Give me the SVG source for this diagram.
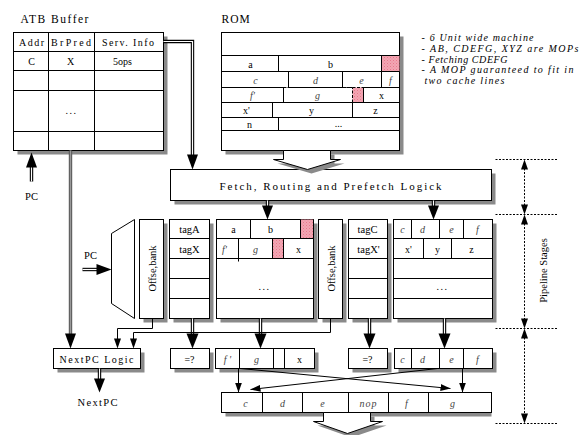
<svg xmlns="http://www.w3.org/2000/svg" width="581" height="435" viewBox="0 0 581 435">
<defs>
<style>
.b{fill:#fff;stroke:#000;stroke-width:1}
.s{fill:#8a8a8a}
.l{stroke:#000;stroke-width:1;fill:none}
.d{stroke:#000;stroke-width:1;fill:none;stroke-dasharray:3,1.5}
text{font-family:'Liberation Serif','DejaVu Serif','Times New Roman',serif}
.t{font-size:10px;fill:#000;text-anchor:middle}
.i{font-style:italic;fill:#444}
.n{font-size:10px;font-style:italic;fill:#000}
.dbo{stroke:#000;stroke-width:3.4;fill:none}
.dbi{stroke:#fff;stroke-width:1.2;fill:none}
.dot{stroke:#000;stroke-width:1;fill:none;stroke-dasharray:2,1.5}
.ah{fill:#000}
</style>
<pattern id="hat" width="3" height="3" patternUnits="userSpaceOnUse">
<rect width="3" height="3" fill="#fbd3da"/>
<path d="M0,0 L3,3 M3,0 L0,3" stroke="#e0506a" stroke-width="0.7"/>
</pattern>
<marker id="sm" markerWidth="10" markerHeight="7" refX="10" refY="3.5" orient="auto" markerUnits="userSpaceOnUse">
<path d="M0,0 L10,3.5 L0,7 Z" fill="#000"/>
</marker>
</defs>
<g transform="translate(0.5,0.5)" font-family="Liberation Serif, serif">
<g id="atb">
<text x="20" y="22" class="t" style="text-anchor:start;font-size:11.5px;letter-spacing:1.5px">ATB Buffer</text>
<rect x="17" y="36" width="150" height="118" class="s"/>
<rect x="13" y="32" width="150" height="118" class="b"/>
<path d="M13,51H163M13,70H163M13,90H163M13,131H163M48,32V150M94,32V150" class="l"/>
<text x="31" y="45" class="t" textLength="25" lengthAdjust="spacing">Addr</text>
<text x="70.5" y="45" class="t" textLength="40" lengthAdjust="spacing">BrPred</text>
<text x="127.5" y="45" class="t" textLength="52" lengthAdjust="spacing">Serv. Info</text>
<text x="31" y="64" class="t">C</text>
<text x="70" y="64" class="t">X</text>
<text x="122" y="64" class="t">5ops</text>
<text x="71" y="113" class="t" style="letter-spacing:1.5px">...</text>
</g>

<g id="rom">
<text x="221" y="22" class="t" style="text-anchor:start;font-size:11.5px;letter-spacing:1px">ROM</text>
<rect x="225" y="36" width="178" height="118" class="s"/>
<rect x="221" y="32" width="178" height="118" class="b"/>
<rect x="381" y="55" width="18" height="16" fill="url(#hat)"/>
<rect x="352" y="87" width="11" height="15" fill="url(#hat)"/>
<path d="M221,55H399M221,71H399M278,55V71M381,55V71" class="l"/>
<rect x="221" y="71" width="67" height="16" class="d"/>
<rect x="342" y="71" width="39" height="16" class="d"/>
<rect x="288" y="71" width="54" height="16" class="l"/>
<path d="M381,71V87" class="l"/>
<path d="M221,87H283M221,102H399M283,87V102M363,87V102M363,87H399" class="l"/>
<rect x="283" y="87" width="69" height="15" class="d"/>
<path d="M221,117H399M221,130H399M272,102V117M352,102V117M278,117V130" class="l"/>
<text x="250" y="67" class="t">a</text>
<text x="330" y="67" class="t">b</text>
<text x="255" y="83" class="t i">c</text>
<text x="315" y="83" class="t i">d</text>
<text x="361" y="83" class="t i">e</text>
<text x="390" y="83" class="t i">f</text>
<text x="252" y="98" class="t i">f'</text>
<text x="317" y="98" class="t i">g</text>
<text x="381" y="98" class="t">x</text>
<text x="246" y="113" class="t">x'</text>
<text x="311" y="113" class="t">y</text>
<text x="375" y="113" class="t">z</text>
<text x="249" y="127" class="t">n</text>
<text x="338" y="126" class="t">...</text>
</g>

<g id="notes">
<text x="421" y="40" class="n" textLength="112" lengthAdjust="spacing">- 6 Unit wide machine</text>
<text x="421" y="51" class="n" textLength="157" lengthAdjust="spacing">- AB, CDEFG, XYZ are MOPs</text>
<text x="421" y="62" class="n" textLength="86" lengthAdjust="spacing">- Fetching CDEFG</text>
<text x="421" y="72.5" class="n" textLength="152" lengthAdjust="spacing">- A MOP guaranteed to fit in</text>
<text x="424" y="83" class="n" textLength="80" lengthAdjust="spacing">two cache lines</text>
</g>

<g id="fetch">
<rect x="174" y="173" width="321" height="31" class="s"/>
<rect x="170" y="169" width="321" height="31" class="b"/>
<text x="330" y="189" class="t" style="font-size:11px" textLength="222" lengthAdjust="spacing">Fetch, Routing  and Prefetch Logick</text>
</g>

<g id="mux">
<polygon points="111,233 134,219 134,318 111,303" class="b"/>
</g>

<g id="offse1">
<rect x="143" y="223" width="24" height="99" class="s"/>
<rect x="139" y="219" width="24" height="99" class="b"/>
<text transform="translate(155,268) rotate(-90)" class="t" style="font-size:10.5px">Offse,bank</text>
</g>

<g id="tag1">
<rect x="173" y="223" width="40" height="99" class="s"/>
<rect x="169" y="219" width="40" height="99" class="b"/>
<path d="M169,238H209M169,258H209M169,278H209M169,298H209" class="l"/>
<text x="189" y="232" class="t" style="font-size:10.5px">tagA</text>
<text x="189" y="252" class="t" style="font-size:10.5px">tagX</text>
</g>

<g id="cache1">
<rect x="220" y="223" width="97" height="99" class="s"/>
<rect x="216" y="219" width="97" height="99" class="b"/>
<rect x="300" y="219" width="13" height="19" fill="url(#hat)"/>
<rect x="272" y="238" width="11" height="20" fill="url(#hat)"/>
<path d="M216,238H313M216,258H313M216,298H313M250,219V238M300,219V238M238,238V261M272,238V258M283,238V258M313,219V238" class="l"/>
<text x="233" y="232" class="t">a</text>
<text x="270" y="232" class="t">b</text>
<text x="224" y="252" class="t i">f'</text>
<text x="255" y="252" class="t i">g</text>
<text x="298" y="252" class="t">x</text>
<text x="264" y="289" class="t" style="letter-spacing:1.5px">...</text>
</g>

<g id="offse2">
<rect x="322" y="223" width="24" height="99" class="s"/>
<rect x="318" y="219" width="24" height="99" class="b"/>
<text transform="translate(334,268) rotate(-90)" class="t" style="font-size:10.5px">Offse,bank</text>
</g>

<g id="tag2">
<rect x="352" y="223" width="39" height="99" class="s"/>
<rect x="348" y="219" width="39" height="99" class="b"/>
<path d="M348,238H387M348,258H387M348,278H387M348,298H387" class="l"/>
<text x="367" y="232" class="t" style="font-size:10.5px">tagC</text>
<text x="368" y="252" class="t" style="font-size:10.5px">tagX'</text>
</g>

<g id="cache2">
<rect x="397" y="223" width="99" height="99" class="s"/>
<rect x="393" y="219" width="99" height="99" class="b"/>
<path d="M393,238H492M393,258H492M393,278H492M393,298H492M411,219V238M439,219V238M463,219V238M423,238V258M451,238V258" class="l"/>
<text x="402" y="232" class="t i">c</text>
<text x="422" y="232" class="t i">d</text>
<text x="451" y="232" class="t i">e</text>
<text x="477" y="232" class="t i">f</text>
<text x="408" y="252" class="t">x'</text>
<text x="437" y="252" class="t">y</text>
<text x="471" y="252" class="t">z</text>
<text x="442" y="289" class="t" style="letter-spacing:1.5px">...</text>
</g>

<g id="cmp1">
<rect x="174" y="352" width="39" height="20" class="s"/>
<rect x="170" y="348" width="39" height="20" class="b"/>
<text x="189" y="362" class="t">=?</text>
</g>

<g id="sel1">
<rect x="219" y="352" width="99" height="20" class="s"/>
<rect x="215" y="348" width="99" height="20" class="b"/>
<path d="M239,348V368M273,348V368M284,348V368" class="l"/>
<text x="227" y="362" class="t i">f '</text>
<text x="256" y="362" class="t i">g</text>
<text x="299" y="362" class="t">x</text>
</g>

<g id="cmp2">
<rect x="352" y="352" width="39" height="20" class="s"/>
<rect x="348" y="348" width="39" height="20" class="b"/>
<text x="367" y="362" class="t">=?</text>
</g>

<g id="sel2">
<rect x="398" y="352" width="98" height="20" class="s"/>
<rect x="394" y="348" width="98" height="20" class="b"/>
<path d="M411,348V368M439,348V368M463,348V368" class="l"/>
<text x="402" y="362" class="t i">c</text>
<text x="422" y="362" class="t i">d</text>
<text x="451" y="362" class="t i">e</text>
<text x="477" y="362" class="t i">f</text>
</g>

<g id="out">
<rect x="225" y="396" width="266" height="20" class="s"/>
<rect x="221" y="392" width="270" height="20" class="b"/>
<path d="M262,392V412M302,392V412M348,392V412M388,392V412M428,392V412" class="l"/>
<text x="245" y="406" class="t i">c</text>
<text x="282" y="406" class="t i">d</text>
<text x="322" y="406" class="t i">e</text>
<text x="368" y="406" class="t i" style="letter-spacing:1px">nop</text>
<text x="406" y="406" class="t i">f</text>
<text x="452" y="406" class="t i">g</text>
</g>

<g id="nextpc">
<rect x="57" y="352" width="87" height="20" class="s"/>
<rect x="53" y="348" width="87" height="20" class="b"/>
<text x="96" y="362" class="t" textLength="74" lengthAdjust="spacing">NextPC Logic</text>
</g>

<g id="labels">
<text x="31" y="199" class="t" style="font-size:10.5px">PC</text>
<text x="90" y="258" class="t" style="font-size:10.5px">PC</text>
<text x="97" y="405" class="t" style="font-size:10.5px" textLength="40" lengthAdjust="spacing">NextPC</text>
<text transform="translate(546,270) rotate(-90)" class="t" style="font-size:10.5px">Pipeline Stages</text>
</g>

<g id="connectors">
<polygon points="287,154 334,154 334,163 344,163 311,173 277,163 287,163" class="s"/>
<polygon points="283,150 330,150 330,159 340,159 307,169 273,159 283,159" class="b"/>
<path d="M163,41H192V155" class="dbo"/>
<path d="M163,41H192V155" class="dbi"/>
<polygon points="186.5,154 197.5,154 192,169" class="ah"/>
<path d="M31,181V166" class="dbo"/>
<path d="M31,181V166" class="dbi"/>
<polygon points="25.5,167 36.5,167 31,152" class="ah"/>
<path d="M70,150V334" stroke="#555" stroke-width="3.4" fill="none"/>
<path d="M70,150V334" stroke="#999" stroke-width="1.4" fill="none"/>
<polygon points="64.5,333 75.5,333 70,348" class="ah"/>
<path d="M82,269H97" class="dbo"/>
<path d="M82,269H97" class="dbi"/>
<polygon points="96,263.5 96,274.5 111,269" class="ah"/>
<path d="M267,200V206" class="dbo"/><path d="M267,200V206" class="dbi"/>
<polygon points="261.5,205 272.5,205 267,219" class="ah"/>
<path d="M433,200V206" class="dbo"/><path d="M433,200V206" class="dbi"/>
<polygon points="427.5,205 438.5,205 433,219" class="ah"/>
<path d="M192,318V334" class="dbo"/><path d="M192,318V334" class="dbi"/>
<polygon points="186,333 198,333 192,348" class="ah"/>
<path d="M260,318V334" class="dbo"/><path d="M260,318V334" class="dbi"/>
<polygon points="254,333 266,333 260,348" class="ah"/>
<path d="M369,318V334" class="dbo"/><path d="M369,318V334" class="dbi"/>
<polygon points="363,333 375,333 369,348" class="ah"/>
<path d="M444,318V334" class="dbo"/><path d="M444,318V334" class="dbi"/>
<polygon points="438,333 450,333 444,348" class="ah"/>
<path d="M152,318V328H117V340" class="l"/>
<polygon points="113.5,338 120.5,338 117,348" class="ah"/>
<path d="M330,318V332H133V340" class="l"/>
<polygon points="129.5,338 136.5,338 133,348" class="ah"/>
<path d="M99,368V379" class="dbo"/><path d="M99,368V379" class="dbi"/>
<polygon points="93.5,378 104.5,378 99,392" class="ah"/>
<path d="M238,368V392" class="l" marker-end="url(#sm)"/>
<path d="M240,368L450,388" class="l" marker-end="url(#sm)"/>
<path d="M437,368L250,389" class="l" marker-end="url(#sm)"/>
<path d="M462,368V392" class="l" marker-end="url(#sm)"/>
<polygon points="327,416 374,416 374,425 386,425 351,437 317,425 327,425" class="s"/>
<polygon points="323,412 370,412 370,421 382,421 347,433 313,421 323,421" class="b"/>
<path d="M495,159H558M495,214H558M495,328H558M495,423H558" class="dot"/>
<path d="M524,168V205M524,223V319M524,337V414" class="dot"/>
<polygon points="520.5,169 527.5,169 524,159" class="ah"/>
<polygon points="520.5,204 527.5,204 524,214" class="ah"/>
<polygon points="520.5,224 527.5,224 524,214" class="ah"/>
<polygon points="520.5,318 527.5,318 524,328" class="ah"/>
<polygon points="520.5,338 527.5,338 524,328" class="ah"/>
<polygon points="520.5,413 527.5,413 524,423" class="ah"/>
</g>
</g>
</svg>
